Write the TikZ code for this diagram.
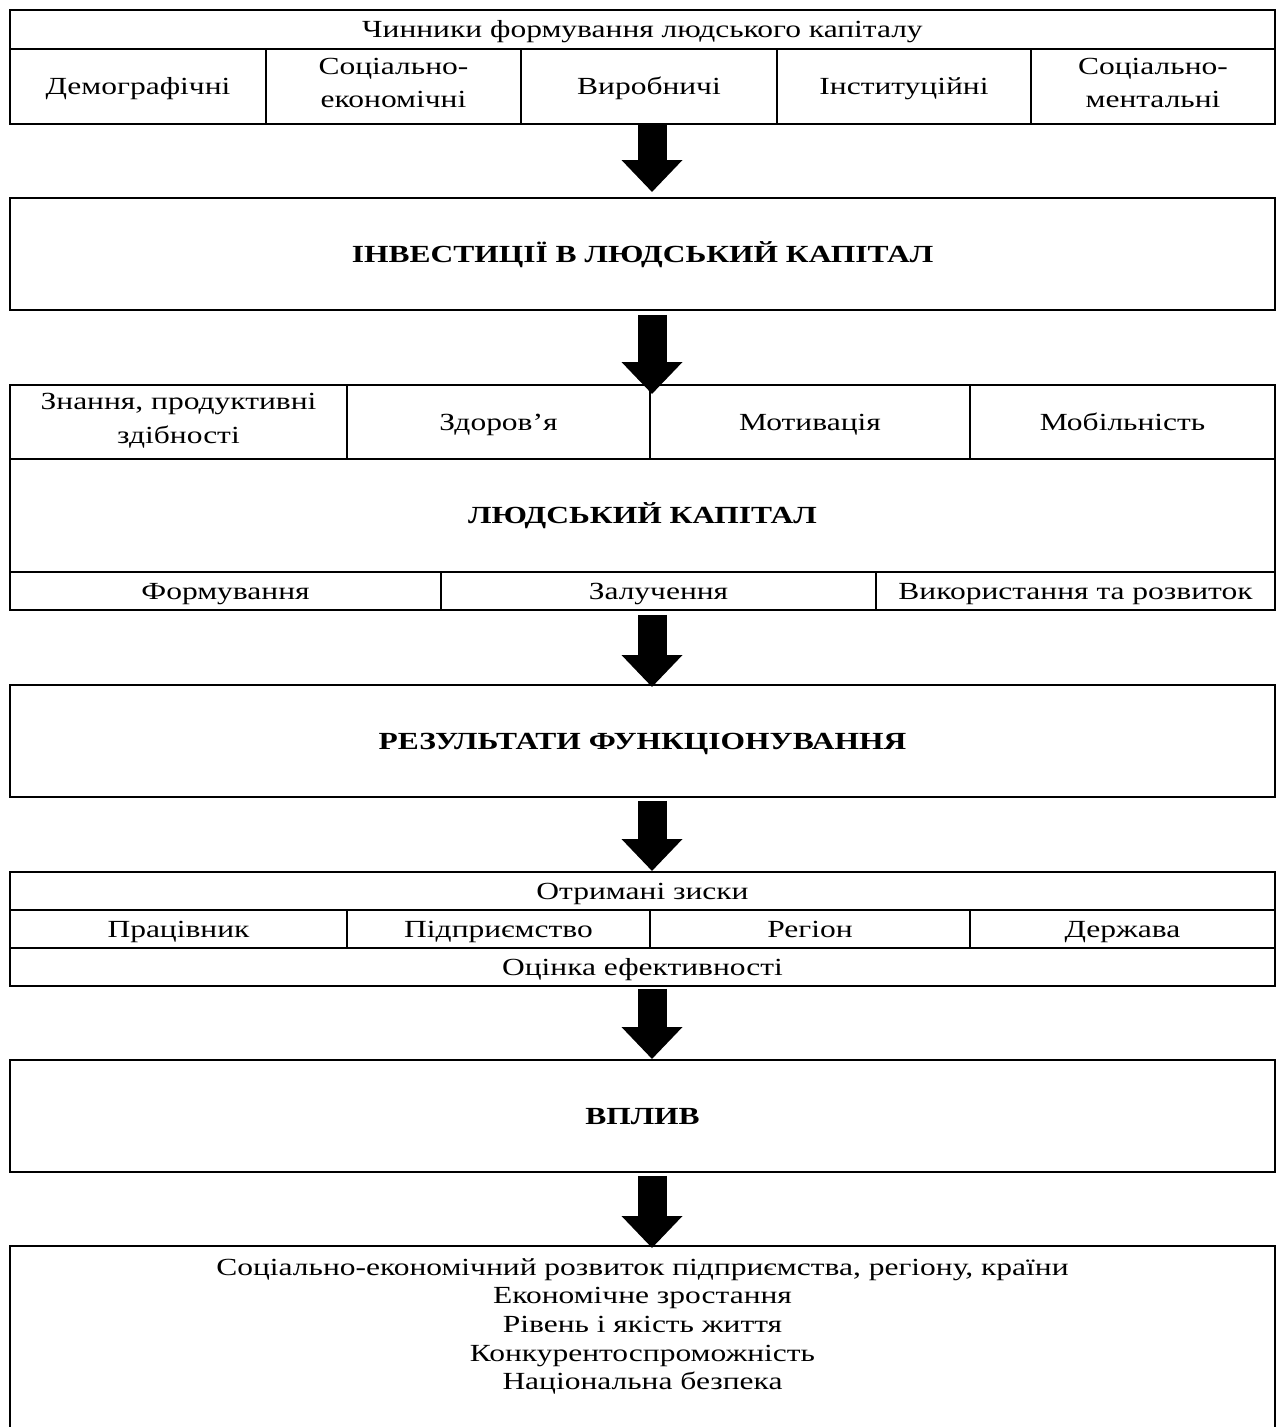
\documentclass[tikz,border=0pt]{standalone}
\usepackage{fontspec}
\setmainfont{Liberation Serif}[FakeStretch=1.28]
\usetikzlibrary{arrows.meta}

\tikzset{
  cell/.style={draw, line width=1.1pt, inner sep=0pt, align=center,
    font=\fontsize{14}{19}\selectfont,
    execute at begin node=\rule{0pt}{13.6pt},
    execute at end node=\rule[-4pt]{0pt}{4pt}},
  head/.style={cell, font=\fontsize{14}{19}\selectfont\bfseries},
  flow/.style={line width=0.58cm, -{Triangle[length=0.64cm,width=1.18cm]}}
}

\begin{document}
\begin{tikzpicture}
    \useasboundingbox (0,0) rectangle (25.52,-28.54);
    \coordinate (ax) at (13.04,0);

    % Factors
    \node[cell, minimum width=25.3cm, minimum height=0.78cm] (fct) at (12.85,-0.59) {Чинники формування людського капіталу};
    \node[cell, minimum width=5.12cm, minimum height=1.5cm] (dem) at (2.76,-1.73) {Демографічні};
    \node[cell, minimum width=5.10cm, minimum height=1.5cm] (soc) at (7.87,-1.73) {Соціально-\\економічні};
    \node[cell, minimum width=5.12cm, minimum height=1.5cm] (vyr) at (12.98,-1.73) {Виробничі};
    \node[cell, minimum width=5.08cm, minimum height=1.5cm] (ins) at (18.08,-1.73) {Інституційні};
    \node[cell, minimum width=4.88cm, minimum height=1.5cm] (men) at (23.06,-1.73) {Соціально-\\ментальні};

    % Investments
    \node[head, minimum width=25.3cm, minimum height=2.24cm] (inv) at (12.85,-5.08) {ІНВЕСТИЦІЇ В ЛЮДСЬКИЙ КАПІТАЛ};

    % Human capital
    \node[cell, minimum width=6.74cm, minimum height=1.48cm] (zna) at (3.57,-8.44) {Знання, продуктивні\\здібності};
    \node[cell, minimum width=6.06cm, minimum height=1.48cm] (zdo) at (9.97,-8.44) {Здоров’я};
    \node[cell, minimum width=6.4cm, minimum height=1.48cm] (mot) at (16.2,-8.44) {Мотивація};
    \node[cell, minimum width=6.1cm, minimum height=1.48cm] (mob) at (22.45,-8.44) {Мобільність};
    \node[head, minimum width=25.3cm, minimum height=2.26cm] (cap) at (12.85,-10.31) {ЛЮДСЬКИЙ КАПІТАЛ};
    \node[cell, minimum width=8.62cm, minimum height=0.76cm] (frm) at (4.51,-11.82) {Формування};
    \node[cell, minimum width=8.70cm, minimum height=0.76cm] (zal) at (13.17,-11.82) {Залучення};
    \node[cell, minimum width=7.98cm, minimum height=0.76cm] (vyk) at (21.51,-11.82) {Використання та розвиток};

    % Results
    \node[head, minimum width=25.3cm, minimum height=2.24cm] (res) at (12.85,-14.82) {РЕЗУЛЬТАТИ ФУНКЦІОНУВАННЯ};

    % Gains
    \node[cell, minimum width=25.3cm, minimum height=0.76cm] (gai) at (12.85,-17.82) {Отримані зиски};
    \node[cell, minimum width=6.74cm, minimum height=0.76cm] (pra) at (3.57,-18.58) {Працівник};
    \node[cell, minimum width=6.06cm, minimum height=0.76cm] (pid) at (9.97,-18.58) {Підприємство};
    \node[cell, minimum width=6.4cm, minimum height=0.76cm] (reg) at (16.2,-18.58) {Регіон};
    \node[cell, minimum width=6.1cm, minimum height=0.76cm] (der) at (22.45,-18.58) {Держава};
    \node[cell, minimum width=25.3cm, minimum height=0.76cm] (eva) at (12.85,-19.34) {Оцінка ефективності};

    % Influence
    \node[head, minimum width=25.3cm, minimum height=2.24cm] (vpl) at (12.85,-22.32) {ВПЛИВ};

    % Outcomes (box runs past the page edge)
    \node[draw, line width=1.1pt, anchor=north, minimum width=25.3cm, minimum height=4.2cm] (out) at (12.85,-24.9) {};
    \node[align=center, font=\fontsize{14}{16.3}\selectfont] (eff) at (12.85,-26.53)
      {Соціально-економічний розвиток підприємства, регіону, країни\\
       Економічне зростання\\
       Рівень і якість життя\\
       Конкурентоспроможність\\
       Національна безпека};

    % Arrows
    \draw[flow, shorten >=0.1cm] (ax |- vyr.south) -- (ax |- inv.north);
    \draw[flow, shorten <=0.08cm, shorten >=-0.2cm] (ax |- inv.south) -- (ax |- mot.north);
    \draw[flow, shorten <=0.08cm, shorten >=-0.06cm] (ax |- zal.south) -- (ax |- res.north);
    \draw[flow, shorten <=0.06cm] (ax |- res.south) -- (ax |- gai.north);
    \draw[flow, shorten <=0.04cm] (ax |- eva.south) -- (ax |- vpl.north);
    \draw[flow, shorten <=0.06cm, shorten >=-0.06cm] (ax |- vpl.south) -- (ax |- out.north);
\end{tikzpicture}
\end{document}
